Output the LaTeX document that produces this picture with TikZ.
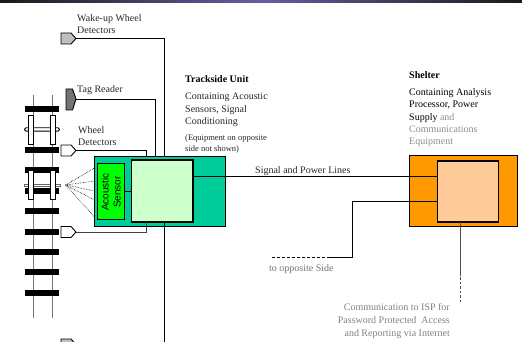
\documentclass[tikz,border=0pt]{standalone}
\usepackage{fontspec}
\setmainfont{Liberation Serif}
\setsansfont{Liberation Sans}
\tikzset{
 lbl/.style={inner sep=0pt,align=left,anchor=north west,text=black!85,font=\fontsize{10}{12.2}\selectfont},
 wire/.style={draw=black,line width=0.9pt},
 detector/.style={draw=black,line width=0.9pt},
 tie/.style={fill=black,draw=none},
 rail/.style={draw=black!55,line width=1pt},
 wheel/.style={draw=black,fill=white,line width=0.5pt},
 fan/.style={draw=black,line width=0.6pt,densely dotted},
}
\definecolor{teal1}{RGB}{0,204,153}
\definecolor{orange1}{RGB}{255,153,0}
\definecolor{peach}{RGB}{255,204,153}
\definecolor{lgreen}{RGB}{204,255,204}
\definecolor{bar}{RGB}{100,96,160}
\begin{document}
\begin{tikzpicture}[x=1pt,y=-1pt]
\useasboundingbox (0,0) rectangle (522,342);
\fill[left color=black!90,right color=bar] (0,0) rectangle (261.5,3);
\fill[left color=bar,right color=black!90] (261,0) rectangle (522,3);
% track
\foreach \x in {33,52} \draw[rail] (\x,95) -- (\x,318);
\foreach \y in {109,150,170,191,211,232,252,272,293} \fill[tie] (24.5,\y-3) rectangle (59,\y+3);
\draw[wheel,line width=0.9pt,rounded corners=1.5pt] (24.5,127.8) rectangle (59.5,131.2);
\draw[wheel,line width=0.4pt,draw=black!60] (24.5,183.7) rectangle (60,186.3);
\foreach \y in {129.5,185}{
 \draw[wheel] (28.7,\y-14.5) rectangle (33,\y+14.5);
 \draw[wheel] (50.5,\y-14.5) rectangle (55,\y+14.5);
}
% boxes
\node[draw=black,line width=0.8pt,fill=teal1,minimum width=130.5pt,minimum height=70pt,inner sep=0pt] (tsu) at (160,191) {};
\node[draw=black,line width=1.2pt,fill=lgreen,minimum width=61.5pt,minimum height=62pt,inner sep=0pt] (tsi) at (162.25,191) {};
\node[draw=black,line width=0.9pt,fill=green,minimum width=27.5pt,minimum height=56.5pt,inner sep=0pt] (acs) at (111,191.5) {};
\node[rotate=90,font=\sffamily\fontsize{10}{12}\selectfont,align=center,inner sep=0pt] (acl) at (111,192) {Acoustic\\Sensor};
\node[draw=black,line width=0.8pt,fill=orange1,minimum width=108pt,minimum height=70.5pt,inner sep=0pt] (shl) at (463,191) {};
\node[draw=black,line width=1.2pt,fill=peach,minimum width=61pt,minimum height=61pt,inner sep=0pt] (shi) at (468.2,191.5) {};
\coordinate (wakeE) at (76,38.5);
\coordinate (tagE) at (76,99);
\coordinate (wheelE) at (76,150.5);
\coordinate (lowE) at (76,232);
% detectors
\newcommand{\house}[3]{\draw[detector,fill=#3] (61,#1) -- (71,#1) -- (76,#1+5.5) -- (71,#2) -- (61,#2) -- cycle;}
\house{33}{44}{black!25}
\house{145}{156}{white}
\house{226.5}{237.5}{white}
\house{339}{350}{black!25}
\draw[detector,fill=black!55] (66,89) -- (72.5,89) -- (76,99) -- (72.5,110) -- (66,110) -- cycle;
% wires
\draw[wire] (wakeE) -- (164.5,38.5) -- (164.5,156);
\draw[wire] (tagE) -- (155.5,99) -- (155.5,156);
\draw[wire] (wheelE) -- (146,150.5) -- (146,156);
\draw[wire,draw=black!75] (lowE) -- (146,232) -- (146,222);
\draw[wire] (164.5,222) -- (164.5,342);
\draw[wire] (acs.east) -- (acs.east -| tsi.west);
\draw[wire] (tsi.east |- 0,176) -- (shi.west |- 0,176);
\draw[wire] (shi.west |- 0,201.7) -- (352.7,201.7) -- (352.7,257.7) -- (330,257.7);
\draw[wire,dash pattern=on 3pt off 2pt] (330,257.7) -- (272,257.7);
\draw[wire,draw=black!70,line width=1.1pt] (460.7,222) -- (460.7,276);
\draw[wire,draw=black!70,line width=1.1pt,dash pattern=on 2.5pt off 2pt] (460.7,277) -- (460.7,304);
% fan
\coordinate (src) at (65.7,185);
\foreach \y in {168,181,191,200,217} \draw[fan] (src) -- (94.5,\y);
% labels
\node[lbl] (l1) at (77,14.3) {Wake-up Wheel\\Detectors};
\node[lbl] (l2) at (77,85) {Tag Reader};
\node[lbl] (l3) at (78,126) {Wheel\\Detectors};
\node[lbl,font=\fontsize{10}{12}\selectfont\bfseries,text=black] (l4) at (185,75) {Trackside Unit};
\node[lbl] (l5) at (185,93) {Containing Acoustic\\Sensors, Signal\\Conditioning};
\node[lbl,font=\fontsize{8.5}{11}\selectfont] (l6) at (185,134) {(Equipment on opposite\\side not shown)};
\node[lbl] (l7) at (255,166.7) {Signal and Power Lines};
\node[lbl,font=\fontsize{10}{12}\selectfont\bfseries,text=black] (l8) at (409,71) {Shelter};
\node[lbl,text=black] (l9) at (409,88.5) {Containing Analysis\\Processor, Power\\Supply \textcolor{black!45}{and}\\\textcolor{black!45}{Communications}\\\textcolor{black!45}{Equipment}};
\node[lbl,text=black!55] (l10) at (269,264) {to opposite Side};
\node[lbl,text=black!50,align=right,anchor=north east,font=\fontsize{10}{12.6}\selectfont] (l11) at (450,303.7) {Communication to ISP for\\Password Protected~ Access\\and Reporting via Internet};
\end{tikzpicture}
\end{document}
